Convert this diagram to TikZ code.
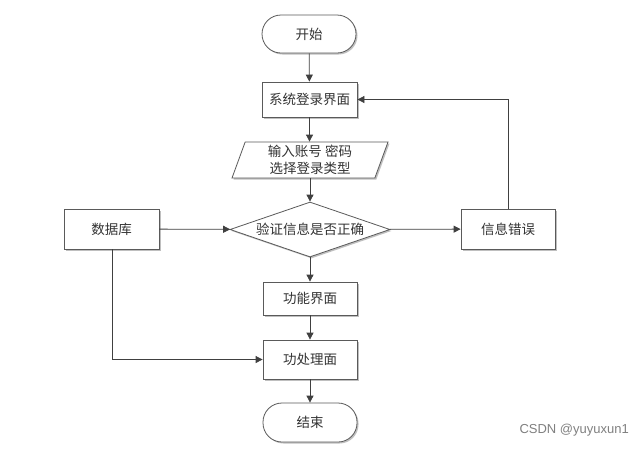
\documentclass[tikz,border=0pt]{standalone}
\usepackage{fontspec}
\newfontfamily\cjk{Noto Sans CJK SC}
\setsansfont{Liberation Sans}
\usetikzlibrary{arrows.meta,shapes.geometric,shadows}
\definecolor{linec}{HTML}{404040}
\definecolor{edgec}{HTML}{5A5A5A}
\begin{document}
\begin{tikzpicture}[x=1pt,y=-1pt,
  every node/.style={font=\cjk\fontsize{13.5}{17}\selectfont, text=black!80, inner sep=0pt},
  boxshadow/.style={drop shadow={shadow xshift=1.5pt,shadow yshift=-1.5pt,fill=black!25,opacity=1}},
  procbox/.style={draw=edgec, line width=0.8pt, fill=white, rectangle, minimum width=95pt, boxshadow},
  termbox/.style={draw=edgec, line width=0.8pt, fill=white, rectangle, rounded corners=19pt, minimum width=94pt, minimum height=38pt, boxshadow},
  iobox/.style={draw=edgec, line width=0.8pt, fill=white, trapezium, trapezium left angle=66, trapezium right angle=114, minimum width=156pt, minimum height=36pt, trapezium stretches body, align=center, boxshadow},
  decbox/.style={draw=edgec, line width=0.8pt, fill=white, diamond, aspect=2.9, minimum width=160pt, minimum height=55pt, boxshadow},
  conn/.style={draw=linec, line width=0.8pt, -{Triangle[length=7pt,width=7pt]}}
]
\useasboundingbox (0,0) rectangle (644,448);
\fill[white] (0,0) rectangle (644,448);
\node[termbox] (start) at (309,34) {开始};
\node[procbox, minimum height=35pt] (login) at (309.5,99.5) {系统登录界面};
\node[iobox] (input) at (310,160) {输入账号 密码\\选择登录类型};
\node[decbox] (check) at (310,229.5) {};
\node at (check) {验证信息是否正确};
\node[procbox, minimum height=40pt] (db) at (111.5,229) {数据库};
\node[procbox, minimum width=94pt, minimum height=40pt] (err) at (508,229) {信息错误};
\node[procbox, minimum width=94pt, minimum height=33pt] (func) at (310,298.5) {功能界面};
\node[procbox, minimum width=94pt, minimum height=39pt] (proc) at (310,359.5) {功处理面};
\node[termbox, minimum height=39pt] (end) at (310,422.5) {结束};
\coordinate (fbc) at (508,99.5);
\coordinate (dbc) at (112,359.5);
\draw[conn] (start) -- (login);
\draw[conn] (login.south) -- (login.south |- input.north);
\draw[conn] (input.south -| check.north) -- (check.north);
\draw[conn] (db) -- (check);
\draw[conn] (check) -- (err);
\draw[conn] (err.north) -- (fbc) -- (login.east);
\draw[conn] (check) -- (func);
\draw[conn] (func) -- (proc);
\draw[conn] (db.south -| dbc) -- (dbc) -- (proc.west);
\draw[conn] (proc) -- (end);
\node[font=\sffamily\fontsize{13}{15}\selectfont, text=black!50, anchor=east] (wm) at (629,430) {CSDN @yuyuxun1};
\end{tikzpicture}
\end{document}
